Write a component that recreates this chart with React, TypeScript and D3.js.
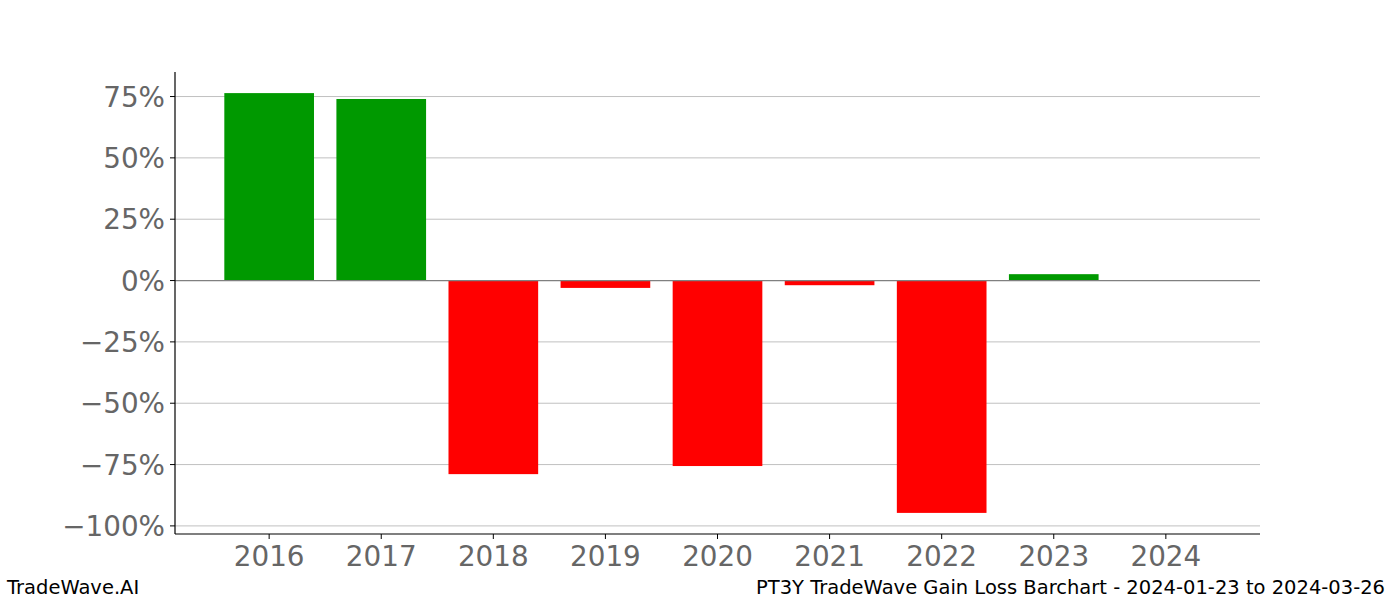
import React from "react";
import * as d3 from "d3";

const years = ["2016", "2017", "2018", "2019", "2020", "2021", "2022", "2023", "2024"];
const gains = [76.4, 74.0, -78.9, -3.0, -75.6, -1.9, -94.7, 2.6, 0];
const yTicks = [75, 50, 25, 0, -25, -50, -75, -100];

const W = 1400, H = 600;
const left = 175, right = 1260, top = 72, bottom = 534;

export default function App() {
  const x = d3.scaleLinear().domain([-0.84, years.length - 1 + 0.84]).range([left, right]);
  const y = d3.scaleLinear().domain([-103.3, 85]).range([bottom, top]);
  const bw = x(0.4) - x(-0.4);
  const font = "DejaVu Sans, sans-serif";
  const tickColor = "#666666";
  const fmt = (v: number) => (v < 0 ? "\u2212" + Math.abs(v) : String(v)) + "%";
  return (
    <svg width={W} height={H} style={{ position: "absolute", left: 0, top: 0, background: "#fff" }}>
      {yTicks.map((t) => (
        <g key={t}>
          {t !== 0 && (
            <line x1={left} x2={right} y1={y(t)} y2={y(t)} stroke="#c0c0c0" strokeWidth={1} />
          )}
          <line x1={left - 5} x2={left} y1={y(t)} y2={y(t)} stroke="#000" strokeWidth={1} />
          <text x={left - 10} y={y(t)} dy="0.36em" textAnchor="end" fontFamily={font} fontSize={27.8} fill={tickColor}>
            {fmt(t)}
          </text>
        </g>
      ))}
      {years.map((yr, i) => {
        const v = gains[i];
        const y0 = y(Math.max(0, v));
        const h = Math.abs(y(v) - y(0));
        return (
          <g key={yr}>
            {v !== 0 && (
              <rect x={x(i) - bw / 2} y={y0} width={bw} height={h} fill={v >= 0 ? "#009900" : "#ff0000"} />
            )}
            <line x1={x(i)} x2={x(i)} y1={bottom} y2={bottom + 5} stroke="#000" strokeWidth={1} />
            <text x={x(i)} y={bottom + 32} textAnchor="middle" fontFamily={font} fontSize={27.8} fill={tickColor}>
              {yr}
            </text>
          </g>
        );
      })}
      <line x1={left} x2={right} y1={y(0)} y2={y(0)} stroke="#808080" strokeWidth={1.2} />
      <line x1={left} x2={left} y1={top} y2={bottom} stroke="#000" strokeWidth={1.2} />
      <line x1={left} x2={right} y1={bottom} y2={bottom} stroke="#000" strokeWidth={1.2} />
      <text x={7} y={594} fontFamily={font} fontSize={19.5} fill="#000">TradeWave.AI</text>
      <text x={1385} y={594} textAnchor="end" fontFamily={font} fontSize={19.5} fill="#000">
        PT3Y TradeWave Gain Loss Barchart - 2024-01-23 to 2024-03-26
      </text>
    </svg>
  );
}
